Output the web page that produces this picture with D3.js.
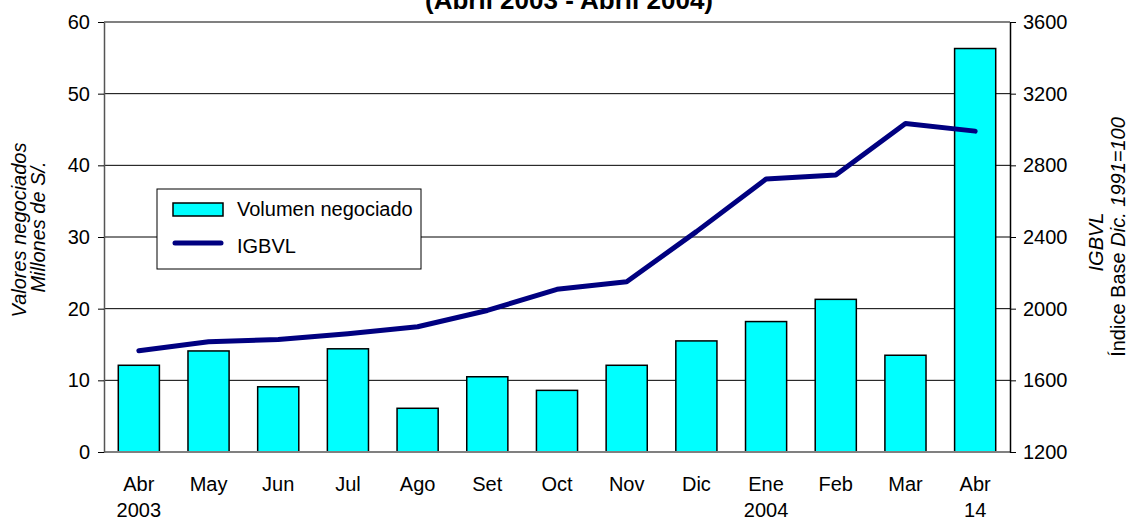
<!DOCTYPE html>
<html>
<head>
<meta charset="utf-8">
<script src="https://cdn.jsdelivr.net/npm/d3@7"></script>
<style>
  body { margin: 0; background: #fff; }
  text { font-family: "Liberation Sans", Arial, sans-serif; fill: #000; }
</style>
</head>
<body>
<svg id="chart" width="1128" height="520"></svg>
<script>
// data
const months = ["Abr", "May", "Jun", "Jul", "Ago", "Set", "Oct", "Nov", "Dic", "Ene", "Feb", "Mar", "Abr "];
const years = ["2003", "", "", "", "", "", "", "", "", "2004", "", "", "14"];
const volumen = [12.1, 14.1, 9.1, 14.4, 6.1, 10.5, 8.6, 12.1, 15.5, 18.2, 21.3, 13.5, 56.3];
const igbvl = [1765, 1815, 1828, 1860, 1899, 1990, 2108, 2150, 2430, 2724, 2746, 3034, 2991];
const leftTicks = [0, 10, 20, 30, 40, 50, 60];
const rightTicks = [1200, 1600, 2000, 2400, 2800, 3200, 3600];

const svg = d3.select("#chart");
const pLeft = 104, pRight = 1010, pTop = 22, pBottom = 452;
const fs = 20;

const x = d3.scaleBand().domain(d3.range(months.length)).range([pLeft, pRight]).paddingInner(0.41).paddingOuter(0.205);
const xc = d3.scaleBand().domain(d3.range(months.length)).range([pLeft, pRight]);
const y = d3.scaleLinear().domain([0, 60]).range([pBottom, pTop]);
const y2 = d3.scaleLinear().domain([1200, 3600]).range([pBottom, pTop]);

// title (first line is cut off above the picture)
svg.append("text")
  .attr("x", 569).attr("y", 9)
  .attr("text-anchor", "middle")
  .attr("style", "font-weight: bold; font-size: 26px")
  .text("(Abril 2003 - Abril 2004)");

// gridlines
svg.selectAll(".grid").data(leftTicks.slice(1, -1)).enter().append("line")
  .attr("class", "grid")
  .attr("x1", pLeft).attr("x2", pRight)
  .attr("y1", d => y(d)).attr("y2", d => y(d))
  .attr("stroke", "#000").attr("stroke-width", 1);

// plot border top
svg.append("line").attr("x1", pLeft).attr("x2", pRight).attr("y1", pTop).attr("y2", pTop)
  .attr("stroke", "#808080").attr("stroke-width", 2);

// bars
svg.selectAll(".bar").data(volumen).enter().append("rect")
  .attr("class", "bar")
  .attr("x", (d, i) => x(i))
  .attr("y", d => y(d))
  .attr("width", x.bandwidth())
  .attr("height", d => pBottom - y(d))
  .attr("fill", "#00ffff")
  .attr("stroke", "#000")
  .attr("stroke-width", 1.5);

// bottom axis line
svg.append("line").attr("x1", pLeft).attr("x2", pRight).attr("y1", pBottom).attr("y2", pBottom)
  .attr("stroke", "#808080").attr("stroke-width", 2);

// left axis
const gl = svg.append("g").attr("transform", "translate(" + pLeft + ",0)")
  .call(d3.axisLeft(y).tickValues(leftTicks).tickSize(6).tickPadding(8).tickSizeOuter(0));
gl.select(".domain").attr("stroke", "#555").attr("stroke-width", 1.5);
gl.selectAll(".tick line").attr("stroke", "#000");
gl.selectAll("text").attr("font-size", fs).attr("font-family", "Liberation Sans, Arial, sans-serif");

// right axis
const gr = svg.append("g").attr("transform", "translate(" + pRight + ",0)")
  .call(d3.axisRight(y2).tickValues(rightTicks).tickFormat(d3.format("d")).tickSize(6).tickPadding(7).tickSizeOuter(0));
gr.select(".domain").attr("stroke", "#000").attr("stroke-width", 1.5);
gr.selectAll(".tick line").attr("stroke", "#000");
gr.selectAll("text").attr("font-size", fs).attr("font-family", "Liberation Sans, Arial, sans-serif");

// line
const line = d3.line().x((d, i) => xc(i) + xc.bandwidth() / 2).y(d => y2(d));
svg.append("path").datum(igbvl)
  .attr("d", line)
  .attr("fill", "none")
  .attr("stroke", "#000080")
  .attr("stroke-width", 5)
  .attr("stroke-linejoin", "round")
  .attr("stroke-linecap", "round");

// category labels
svg.selectAll(".mon").data(months).enter().append("text")
  .attr("class", "mon")
  .attr("x", (d, i) => xc(i) + xc.bandwidth() / 2)
  .attr("y", 491)
  .attr("text-anchor", "middle")
  .attr("font-size", fs)
  .text(d => d.trim());
svg.selectAll(".yr").data(years).enter().append("text")
  .attr("class", "yr")
  .attr("x", (d, i) => xc(i) + xc.bandwidth() / 2)
  .attr("y", 517)
  .attr("text-anchor", "middle")
  .attr("font-size", fs)
  .text(d => d);

// axis titles
function vTitle(cx, cy, parts) {
  const t = svg.append("text")
    .attr("transform", "translate(" + cx + "," + cy + ") rotate(-90)")
    .attr("text-anchor", "middle")
    .attr("font-size", fs);
  parts.forEach(p => t.append("tspan").attr("font-style", p[1] ? "italic" : "normal").text(p[0]));
}
vTitle(26, 230, [["Valores negociados", true]]);
vTitle(45, 227, [["Millones de S/.", true]]);
vTitle(1103, 242, [["IGBVL", true]]);
vTitle(1125, 237, [["Índice Base ", false], ["Dic. 1991=100", true]]);

// legend
const lg = svg.append("g");
lg.append("rect").attr("x", 157).attr("y", 189).attr("width", 264).attr("height", 80)
  .attr("fill", "#fff").attr("stroke", "#000").attr("stroke-width", 1);
lg.append("rect").attr("x", 173).attr("y", 203).attr("width", 50).attr("height", 13)
  .attr("fill", "#00ffff").attr("stroke", "#000").attr("stroke-width", 1.5);
lg.append("line").attr("x1", 175).attr("x2", 221).attr("y1", 243).attr("y2", 243)
  .attr("stroke", "#000080").attr("stroke-width", 5).attr("stroke-linecap", "round");
lg.append("text").attr("x", 237).attr("y", 216).attr("font-size", fs).text("Volumen negociado");
lg.append("text").attr("x", 237).attr("y", 253).attr("font-size", fs).text("IGBVL");
</script>
</body>
</html>
